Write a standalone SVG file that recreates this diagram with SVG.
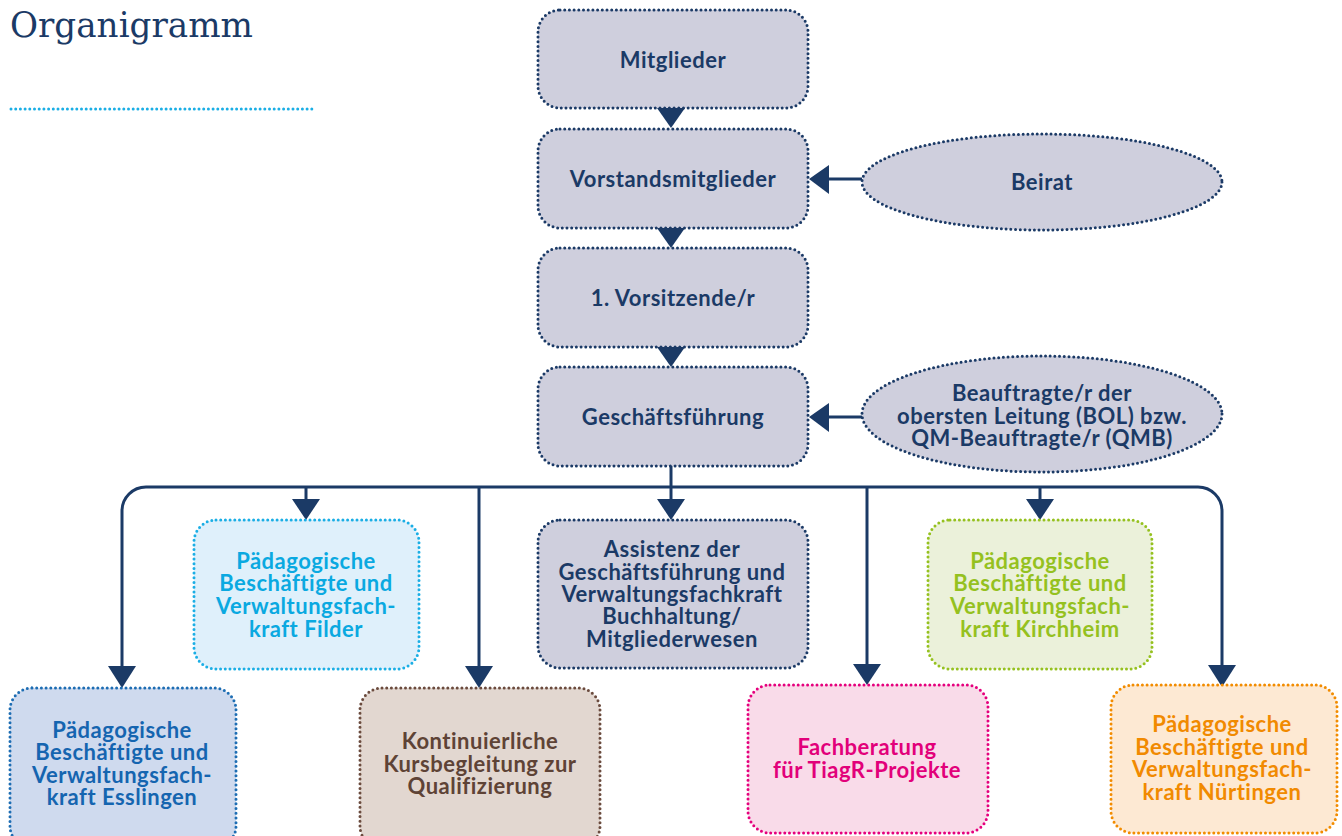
<svg xmlns="http://www.w3.org/2000/svg" width="1342" height="836" viewBox="0 0 1342 836">
<style>
.t{font-family:Lato,"Open Sans","Liberation Sans",sans-serif;font-weight:bold;font-size:22px;letter-spacing:0.5px;text-anchor:middle}
.dot{stroke-width:3;stroke-dasharray:0 4.7;stroke-linecap:round}
.main{fill:#cfcfdd;stroke:#1b3a66}
.mt{fill:#1b3a66}
.con{fill:none;stroke:#1b3a66;stroke-width:3}
.ah{fill:#1b3a66}
</style>
<rect width="1342" height="836" fill="#ffffff"/>
<g id="title">
<text x="10" y="37" font-family="DejaVu Serif,Liberation Serif,serif" font-size="36" fill="#1b3a66" textLength="243" lengthAdjust="spacingAndGlyphs">Organigramm</text>
<line x1="11" y1="109" x2="316" y2="109" stroke="#1aaee5" class="dot"/>
</g>
<g id="connectors">
<polygon points="657,108 685,108 671,128" class="ah"/>
<polygon points="657,228 685,228 671,248" class="ah"/>
<polygon points="657,347 685,347 671,367" class="ah"/>
<line x1="862" y1="179" x2="826" y2="179" class="con"/>
<polygon points="829,165 829,194 809,179" class="ah"/>
<line x1="862" y1="417" x2="826" y2="417" class="con"/>
<polygon points="829,403 829,432 809,417" class="ah"/>
<line x1="671" y1="466" x2="671" y2="502" class="con"/>
<path d="M122,670 V511 A24,24 0 0 1 146,487 H1198 A24,24 0 0 1 1222,511 V668" class="con"/>
<polygon points="108,666 136,666 122,688" class="ah"/>
<polygon points="1208,665 1236,665 1222,687" class="ah"/>
<line x1="306" y1="487" x2="306" y2="502" class="con"/>
<polygon points="292,499 320,499 306,520" class="ah"/>
<polygon points="657,499 685,499 671,520" class="ah"/>
<line x1="1040" y1="487" x2="1040" y2="502" class="con"/>
<polygon points="1026,499 1054,499 1040,520" class="ah"/>
<line x1="479" y1="487" x2="479" y2="670" class="con"/>
<polygon points="465,666 493,666 479,688" class="ah"/>
<line x1="867" y1="487" x2="867" y2="668" class="con"/>
<polygon points="853,664 881,664 867,685" class="ah"/>
</g>
<g id="mitglieder">
<rect x="538" y="10" width="270" height="98" rx="22" class="main dot"/>
<text x="673" y="68" class="t mt">Mitglieder</text>
</g>
<g id="vorstand">
<rect x="538" y="129" width="270" height="99" rx="22" class="main dot"/>
<text x="673" y="187" class="t mt">Vorstandsmitglieder</text>
</g>
<g id="vorsitz">
<rect x="538" y="248" width="270" height="99" rx="22" class="main dot"/>
<text x="673" y="306" class="t mt">1. Vorsitzende/r</text>
</g>
<g id="gf">
<rect x="538" y="367" width="270" height="99" rx="22" class="main dot"/>
<text x="673" y="425" class="t mt">Geschäftsführung</text>
</g>
<g id="beirat">
<ellipse cx="1042" cy="182" rx="180" ry="48" class="main dot"/>
<text x="1042" y="190" class="t mt">Beirat</text>
</g>
<g id="bol">
<ellipse cx="1042" cy="414" rx="180" ry="58" class="main dot"/>
<text x="1042" y="401" class="t mt">Beauftragte/r der</text>
<text x="1042" y="424" class="t mt">obersten Leitung (BOL) bzw.</text>
<text x="1042" y="446" class="t mt">QM-Beauftragte/r (QMB)</text>
</g>
<g id="filder">
<rect x="194" y="520" width="225" height="149" rx="22" fill="#dff0fb" stroke="#1aaee5" class="dot"/>
<g class="t" fill="#0aa9e1">
<text x="306" y="569">Pädagogische</text>
<text x="306" y="591">Beschäftigte und</text>
<text x="306" y="614">Verwaltungsfach-</text>
<text x="306" y="637">kraft Filder</text>
</g>
</g>
<g id="assistenz">
<rect x="538" y="520" width="270" height="148" rx="22" class="main dot"/>
<g class="t mt">
<text x="672" y="557">Assistenz der</text>
<text x="672" y="580">Geschäftsführung und</text>
<text x="672" y="602">Verwaltungsfachkraft</text>
<text x="672" y="624">Buchhaltung/</text>
<text x="672" y="647">Mitgliederwesen</text>
</g>
</g>
<g id="kirchheim">
<rect x="928" y="520" width="224" height="149" rx="22" fill="#ebf1da" stroke="#95c11f" class="dot"/>
<g class="t" fill="#95c11f">
<text x="1040" y="569">Pädagogische</text>
<text x="1040" y="591">Beschäftigte und</text>
<text x="1040" y="614">Verwaltungsfach-</text>
<text x="1040" y="637">kraft Kirchheim</text>
</g>
</g>
<g id="esslingen">
<rect x="10" y="688" width="226" height="160" rx="22" fill="#cfdaee" stroke="#1d6db3" class="dot"/>
<g class="t" fill="#1565b0">
<text x="122" y="738">Pädagogische</text>
<text x="122" y="760">Beschäftigte und</text>
<text x="122" y="783">Verwaltungsfach-</text>
<text x="122" y="805">kraft Esslingen</text>
</g>
</g>
<g id="kontinuierlich">
<rect x="360" y="688" width="240" height="160" rx="22" fill="#e2d7d0" stroke="#6b4b3e" class="dot"/>
<g class="t" fill="#5e4336">
<text x="480" y="749">Kontinuierliche</text>
<text x="480" y="772">Kursbegleitung zur</text>
<text x="480" y="794">Qualifizierung</text>
</g>
</g>
<g id="fachberatung">
<rect x="748" y="685" width="240" height="148" rx="22" fill="#f9dbe9" stroke="#e5007d" class="dot"/>
<g class="t" fill="#e2007a">
<text x="867" y="755">Fachberatung</text>
<text x="867" y="778">für TiagR-Projekte</text>
</g>
</g>
<g id="nuertingen">
<rect x="1111" y="685" width="226" height="148" rx="22" fill="#fde9d3" stroke="#f28c00" class="dot"/>
<g class="t" fill="#f18a00">
<text x="1222" y="732">Pädagogische</text>
<text x="1222" y="755">Beschäftigte und</text>
<text x="1222" y="777">Verwaltungsfach-</text>
<text x="1222" y="800">kraft Nürtingen</text>
</g>
</g>
</svg>
